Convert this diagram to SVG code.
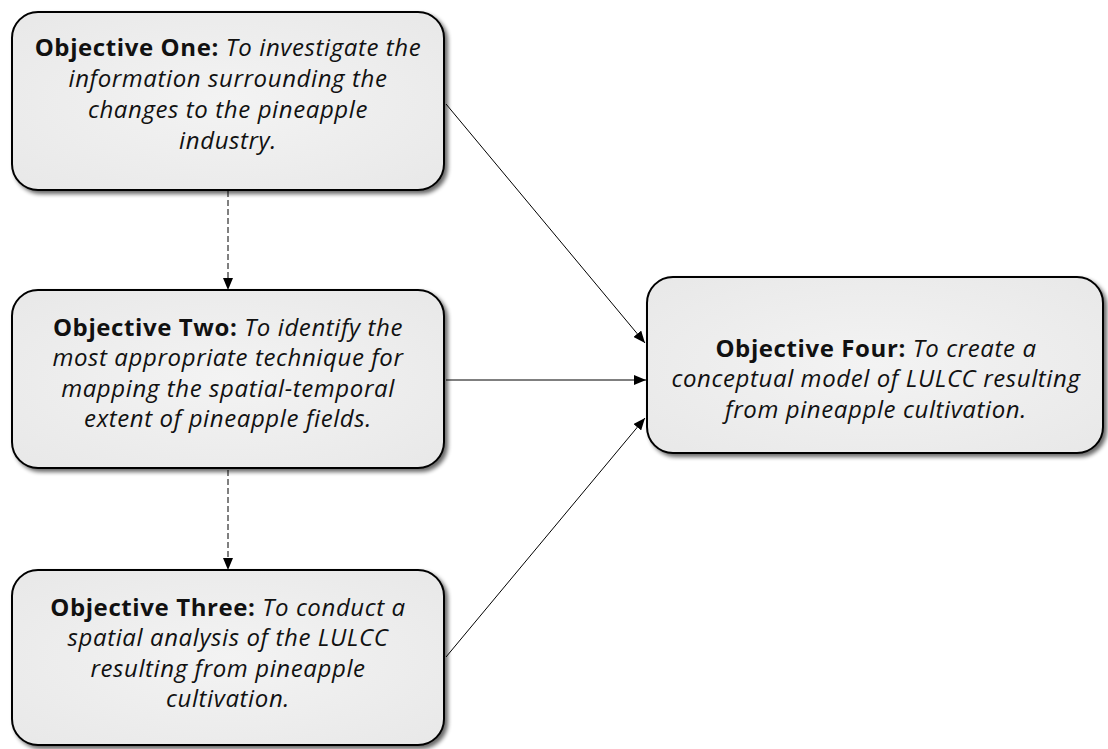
<svg xmlns="http://www.w3.org/2000/svg" width="1108" height="749" viewBox="0 0 1108 749">
  <defs>
    <radialGradient id="boxfill" cx="50%" cy="50%" r="70%">
      <stop offset="0%" stop-color="#f3f3f3"/>
      <stop offset="100%" stop-color="#e8e8e8"/>
    </radialGradient>
    <filter id="shadow" x="-5%" y="-5%" width="115%" height="120%">
      <feGaussianBlur in="SourceAlpha" stdDeviation="2"/>
      <feOffset dx="3" dy="3" result="b"/>
      <feComponentTransfer><feFuncA type="linear" slope="0.6"/></feComponentTransfer>
      <feMerge><feMergeNode/><feMergeNode in="SourceGraphic"/></feMerge>
    </filter>
    <marker id="arrow" viewBox="0 0 12 10" refX="12" refY="5" markerWidth="12" markerHeight="10" markerUnits="userSpaceOnUse" orient="auto">
      <path d="M0,0 L12,5 L0,10 z" fill="#000"/>
    </marker>
  </defs>
  <style>
    .box { fill: url(#boxfill); stroke: #000; stroke-width: 2; filter: url(#shadow); }
    .txt { font-family: "Open Sans", Lato, sans-serif; font-size: 24px; letter-spacing: 0.6px; fill: #111; text-anchor: middle; }
    .b { font-weight: bold; }
    .i { font-style: italic; }
    .conn { stroke: #000; stroke-width: 1; fill: none; marker-end: url(#arrow); }
    .dash { stroke-dasharray: 6 3; }
  </style>
  <rect width="1108" height="749" fill="#fff"/>

  <g id="connectors">
    <line class="conn dash" x1="228" y1="191" x2="228" y2="290"/>
    <line class="conn dash" x1="228" y1="470" x2="228" y2="570"/>
    <line class="conn" x1="446" y1="104" x2="645" y2="343"/>
    <line class="conn" x1="446" y1="380" x2="646" y2="380"/>
    <line class="conn" x1="446" y1="657" x2="645" y2="418"/>
  </g>

  <g id="objective-one">
    <rect class="box" x="12" y="12" width="432" height="178" rx="26"/>
    <text class="txt" x="228" y="56"><tspan class="b">Objective One:</tspan><tspan class="i"> To investigate the</tspan></text>
    <text class="txt i" x="228" y="87">information surrounding the</text>
    <text class="txt i" x="228" y="118">changes to the pineapple</text>
    <text class="txt i" x="228" y="149">industry.</text>
  </g>

  <g id="objective-two">
    <rect class="box" x="12" y="290" width="432" height="178" rx="26"/>
    <text class="txt" x="228" y="336"><tspan class="b">Objective Two:</tspan><tspan class="i"> To identify the</tspan></text>
    <text class="txt i" x="228" y="366">most appropriate technique for</text>
    <text class="txt i" x="228" y="397">mapping the spatial-temporal</text>
    <text class="txt i" x="228" y="427">extent of pineapple fields.</text>
  </g>

  <g id="objective-three">
    <rect class="box" x="12" y="570" width="432" height="175" rx="26"/>
    <text class="txt" x="228" y="616"><tspan class="b">Objective Three:</tspan><tspan class="i"> To conduct a</tspan></text>
    <text class="txt i" x="228" y="646">spatial analysis of the LULCC</text>
    <text class="txt i" x="228" y="677">resulting from pineapple</text>
    <text class="txt i" x="228" y="707">cultivation.</text>
  </g>

  <g id="objective-four">
    <rect class="box" x="647" y="277" width="456" height="176" rx="26"/>
    <text class="txt" x="876" y="357"><tspan class="b">Objective Four:</tspan><tspan class="i"> To create a</tspan></text>
    <text class="txt i" x="876" y="387">conceptual model of LULCC resulting</text>
    <text class="txt i" x="876" y="418">from pineapple cultivation.</text>
  </g>
</svg>
